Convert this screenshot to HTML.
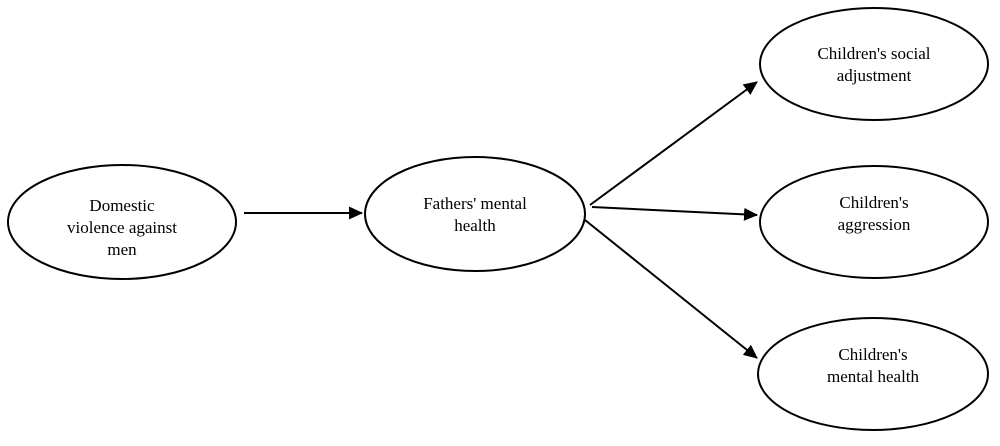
<!DOCTYPE html>
<html><head><style>body{margin:0;background:#fff}</style></head><body>
<svg width="1000" height="441" xmlns="http://www.w3.org/2000/svg" font-family="Liberation Serif, serif" font-size="17" text-anchor="middle">
<defs><marker id="a" markerWidth="14" markerHeight="14" refX="13" refY="6.5" orient="auto" markerUnits="userSpaceOnUse"><path d="M0,0 L14,6.5 L0,13 z" fill="#000"/></marker></defs>
<g fill="none" stroke="#000" stroke-width="2">
<ellipse cx="122" cy="222" rx="114" ry="57"/>
<ellipse cx="475" cy="214" rx="110" ry="57"/>
<ellipse cx="874" cy="64" rx="114" ry="56"/>
<ellipse cx="874" cy="222" rx="114" ry="56"/>
<ellipse cx="873" cy="374" rx="115" ry="56"/>
<line x1="244" y1="213" x2="362" y2="213" marker-end="url(#a)"/>
<line x1="590" y1="205" x2="757" y2="82" marker-end="url(#a)"/>
<line x1="592" y1="207" x2="757" y2="215" marker-end="url(#a)"/>
<line x1="585" y1="220" x2="757" y2="358" marker-end="url(#a)"/>
</g>
<text x="122" y="211">Domestic</text><text x="122" y="233">violence against</text><text x="122" y="255">men</text>
<text x="475" y="209">Fathers' mental</text><text x="475" y="231">health</text>
<text x="874" y="59">Children's social</text><text x="874" y="81">adjustment</text>
<text x="874" y="208">Children's</text><text x="874" y="230">aggression</text>
<text x="873" y="360">Children's</text><text x="873" y="382">mental health</text>
</svg></body></html>
